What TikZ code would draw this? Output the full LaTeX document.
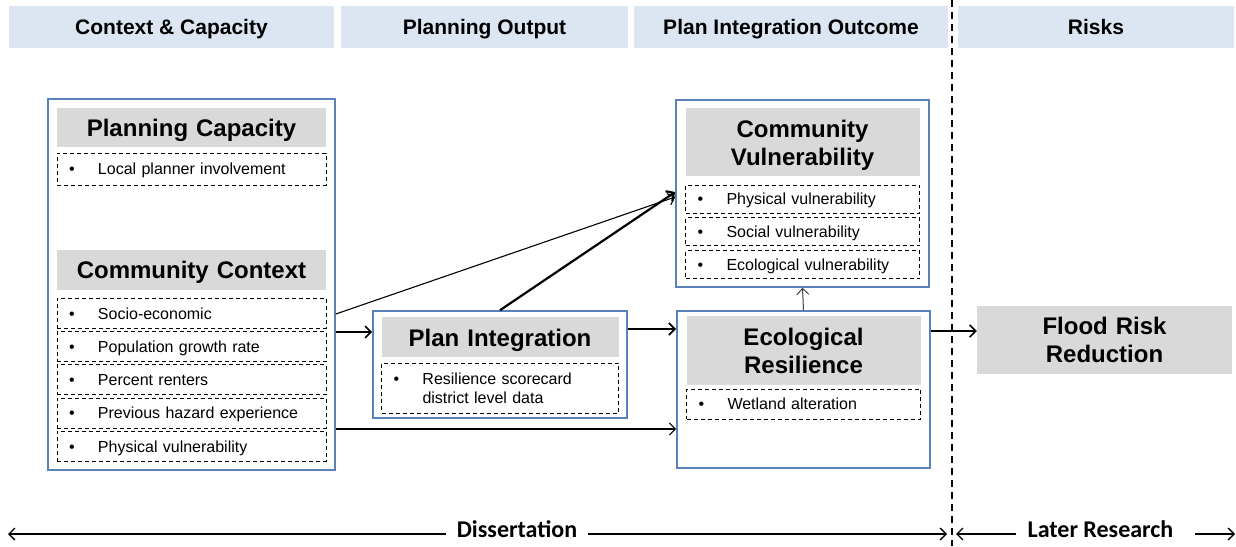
\documentclass[tikz,border=0pt]{standalone}
\usepackage{fontspec}
\setmainfont{Liberation Sans}
\newfontfamily\spanfont{Carlito}
\usetikzlibrary{arrows.meta,positioning}
\definecolor{bandblue}{HTML}{DCE6F2}
\definecolor{shade}{HTML}{D9D9D9}
\definecolor{panelblue}{HTML}{5A82B8}
\newcommand{\itembullet}{\makebox[29pt][l]{\textbullet}}

\begin{document}
\begin{tikzpicture}[
  x=1pt,y=-1pt,
  header/.style={fill=bandblue,minimum height=42pt,inner sep=0pt,text height=15pt,text depth=0pt,font=\fontsize{21}{24}\selectfont\bfseries},
  panel/.style={draw=panelblue,line width=1.6pt,inner sep=0pt},
  title/.style={fill=shade,text width=#1,align=center,inner sep=0pt,text depth=0pt,font=\fontsize{24}{28}\selectfont\bfseries},
  twolines/.style={text depth=28pt},
  item/.style={draw,dash pattern=on 4pt off 3pt,line width=0.8pt,text width=#1,align=left,inner xsep=12pt,inner ysep=0pt,minimum height=30pt,text depth=0pt,font=\fontsize{16}{19}\selectfont},
  arr/.style={-{Straight Barb[length=6pt,width=12pt]},line width=1.3pt},
  divider/.style={dash pattern=on 7pt off 5pt,line width=1.5pt},
  span/.style={inner xsep=11pt,inner ysep=0pt,text height=17pt,text depth=10pt,font=\fontsize{24}{28}\spanfont\bfseries}
]
\useasboundingbox (0,0) rectangle (1236,546);

% column headers
\node[header,minimum width=325pt] (h1) at (171.5,27) {Context \& Capacity};
\node[header,minimum width=287pt] (h2) at (484.5,27) {Planning Output};
\node[header,minimum width=314pt] (h3) at (791,27) {Plan Integration Outcome};
\node[header,minimum width=276pt] (h4) at (1096,27) {Risks};

% context and capacity
\node[panel,minimum width=287pt,minimum height=371pt] (ctx) at (191.5,284.5) {};
\node[title=269pt,minimum height=39pt,below=10pt of ctx.north] (pcap) {Planning Capacity};
\node[item=245pt,minimum height=32pt,below=5pt of pcap] (planner) {\itembullet Local planner involvement};
\node[title=269pt,minimum height=40pt,below=64pt of planner] (cctx) {Community Context};
\node[item=245pt,below=8pt of cctx] (socio) {\itembullet Socio-economic};
\node[item=245pt,below=2.5pt of socio] (growth) {\itembullet Population growth rate};
\node[item=245pt,below=2.5pt of growth] (renters) {\itembullet Percent renters};
\node[item=245pt,below=2.5pt of renters] (hazard) {\itembullet Previous hazard experience};
\node[item=245pt,below=2.5pt of hazard] (physc) {\itembullet Physical vulnerability};

% planning output
\node[panel,minimum width=254pt,minimum height=107pt] (pi) at (500,364.5) {};
\node[title=237pt,minimum height=40pt,below=7pt of pi.north] (pit) {Plan Integration};
\node[item=213pt,minimum height=50pt,text depth=19pt,below=5pt of pit] (score) {\itembullet Resilience scorecard\\\hspace*{29pt}district level data};

% outcomes
\node[panel,minimum width=253pt,minimum height=187pt] (cv) at (802.5,193.5) {};
\node[title=234pt,twolines,minimum height=68pt,below=9pt of cv.north] (cvt) {Community\\Vulnerability};
\node[item=210pt,minimum height=28pt,below=8pt of cvt] (physv) {\itembullet Physical vulnerability};
\node[item=210pt,minimum height=28pt,below=4pt of physv] (socv) {\itembullet Social vulnerability};
\node[item=210pt,minimum height=28pt,below=4pt of socv] (ecov) {\itembullet Ecological vulnerability};

\node[panel,minimum width=253pt,minimum height=157pt] (er) at (803.5,389.5) {};
\node[title=234pt,twolines,minimum height=69pt,below=6pt of er.north] (ert) {Ecological\\Resilience};
\node[item=210pt,below=3pt of ert] (wetland) {\itembullet Wetland alteration};

% risks
\node[title=255pt,twolines,minimum height=68pt] (flood) at (1104.5,340) {Flood Risk\\Reduction};

% links
\draw[arr,line width=1.6pt] (ctx.east |- 0,332) -- (pi.west |- 0,332);
\draw[arr,line width=1.1pt] (ctx.east |- 0,314) -- (cv.west |- 0,197);
\draw[arr,line width=2.2pt] (pi.north) -- (cv.west |- 0,192);
\draw[arr,line width=1.8pt] (pi.east |- 0,329) -- (er.west |- 0,329);
\draw[arr,line width=1.2pt] (ctx.east |- 0,429) -- (er.west |- 0,429);
\draw[arr,line width=1pt,draw=black!75] (er.north) -- (cv.south);
\draw[arr,line width=1.6pt] (er.east |- 0,331) -- (flood.west |- 0,331);

% dissertation / later research split
\coordinate (top) at (952,0);
\coordinate (bottom) at (952,546);
\draw[divider] (top) -- (bottom);

\coordinate (dl) at (8,534);
\coordinate (dr) at (947,534);
\coordinate (ll) at (956,534);
\coordinate (lr) at (1235,534);
\node[span] (diss) at (517,534) {Dissertation};
\node[span] (later) at (1100.5,534) {Later Research};
\draw[arr] (diss.west) -- (dl);
\draw[arr] (diss.east) -- (dr);
\draw[arr] (later.west) -- (ll);
\draw[arr] ([xshift=10pt]later.east) -- (lr);
\end{tikzpicture}
\end{document}
